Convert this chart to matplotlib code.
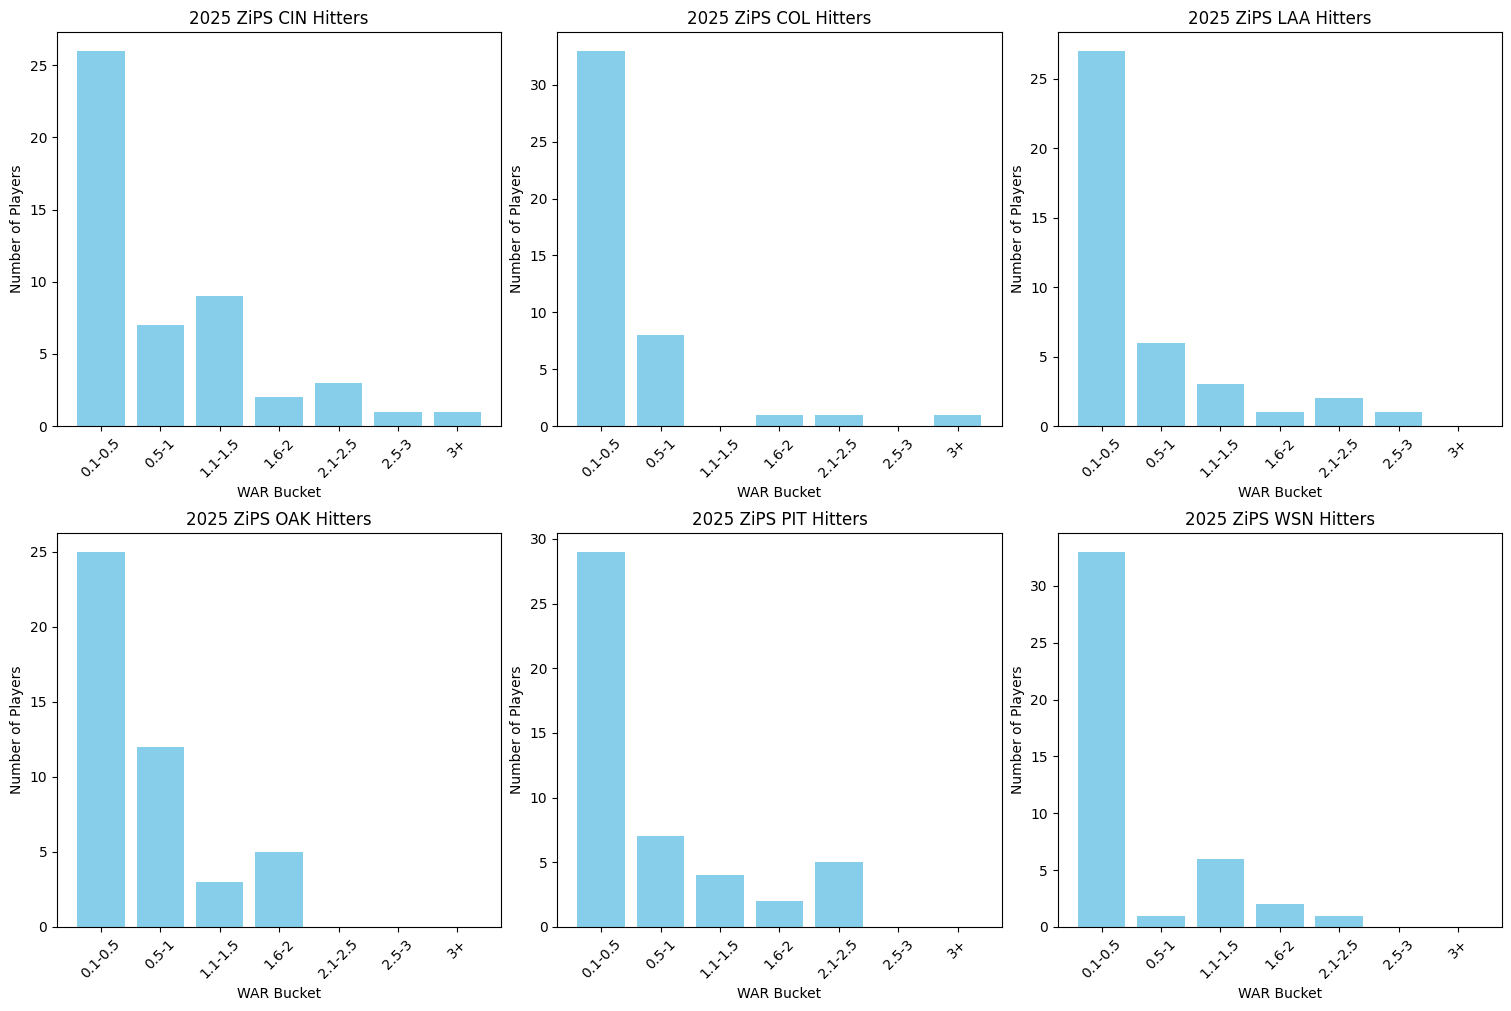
import matplotlib
matplotlib.use('Agg')
import matplotlib.pyplot as plt

# WAR buckets shared by all panels
buckets = ['0.1-0.5', '0.5-1', '1.1-1.5', '1.6-2', '2.1-2.5', '2.5-3', '3+']

teams = ['CIN', 'COL', 'LAA', 'OAK', 'PIT', 'WSN']
cin_counts = [26, 7, 9, 2, 3, 1, 1]
col_counts = [33, 8, 0, 1, 1, 0, 1]
laa_counts = [27, 6, 3, 1, 2, 1, 0]
oak_counts = [25, 12, 3, 5, 0, 0, 0]
pit_counts = [29, 7, 4, 2, 5, 0, 0]
wsn_counts = [33, 1, 6, 2, 1, 0, 0]

all_counts = [cin_counts, col_counts, laa_counts, oak_counts, pit_counts, wsn_counts]

fig, axes = plt.subplots(2, 3, figsize=(15.11, 10.11), dpi=100)

for ax, team, counts in zip(axes.flat, teams, all_counts):
    ax.bar(buckets, counts, color='skyblue')
    ax.set_title(f'2025 ZiPS {team} Hitters')
    ax.set_xlabel('WAR Bucket')
    ax.set_ylabel('Number of Players')
    ax.tick_params(axis='x', rotation=45)

# match the reference panel placement
plt.subplots_adjust(left=0.0377, right=0.994, top=0.9683, bottom=0.0831,
                    wspace=0.126, hspace=0.2716)
plt.savefig('out.png', dpi=100)
